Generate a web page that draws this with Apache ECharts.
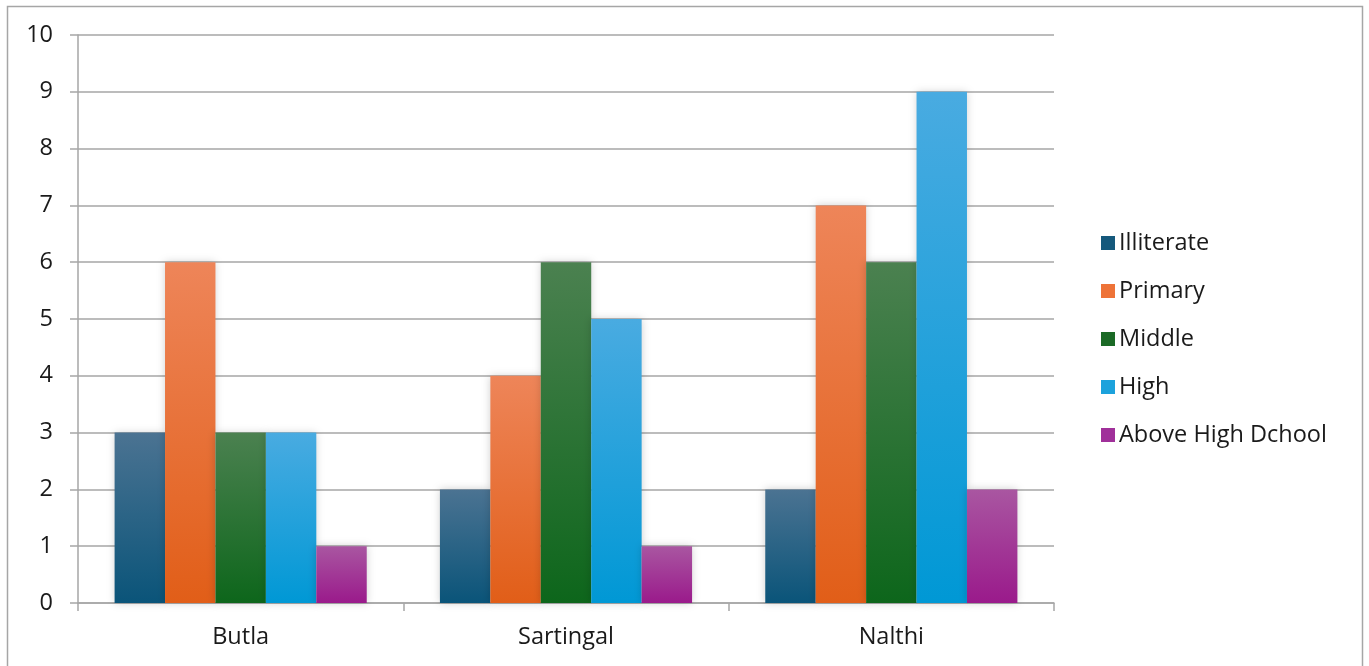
<!DOCTYPE html>
<html>
<head>
<meta charset="utf-8">
<script src="https://cdn.jsdelivr.net/npm/echarts@6/dist/echarts.min.js"></script>
<style>
html,body{margin:0;padding:0;background:#fff;}
#main{width:1369px;height:666px;}
</style>
</head>
<body>
<div id="main"></div>
<script>
const categories = ['Butla', 'Sartingal', 'Nalthi'];
const seriesNames = ['Illiterate', 'Primary', 'Middle', 'High', 'Above High Dchool'];
const illiterate = [3, 2, 2];
const primary = [6, 4, 7];
const middle = [3, 6, 6];
const high = [3, 5, 9];
const aboveHigh = [1, 1, 2];
const yTicks = [0, 1, 2, 3, 4, 5, 6, 7, 8, 9, 10];

const seriesData = [illiterate, primary, middle, high, aboveHigh];
const gradients = [
  ['#4b7392', '#0a5479'],
  ['#ee8559', '#e15e18'],
  ['#4b8150', '#0d661b'],
  ['#49abe1', '#0098d5'],
  ['#a956a1', '#9a1a8b']
];
const legendColors = ['#15597c', '#ee7338', '#1b6a26', '#1ca2dc', '#a0309a'];

const chart = echarts.init(document.getElementById('main'));
const font = 'Open Sans';
const fs = 23.5;
chart.setOption({
  animation: false,
  textStyle: { fontFamily: font },
  graphic: [{
    type: 'rect', silent: true, z: -10,
    shape: { x: 7.5, y: 6.5, width: 1355, height: 700 },
    style: { fill: 'none', stroke: '#a6a6a6', lineWidth: 1.5 }
  }],
  grid: { left: 78, right: 315, top: 35, bottom: 63 },
  legend: {
    orient: 'vertical',
    left: 1096, top: 226,
    itemWidth: 14, itemHeight: 14, itemGap: 24,
    icon: 'rect',
    textStyle: { fontSize: fs, lineHeight: 24, color: '#1a1a1a', fontFamily: font, padding: [0, 0, 0, -1] },
    data: seriesNames.map((n, i) => ({ name: n, itemStyle: { color: legendColors[i] } }))
  },
  xAxis: {
    type: 'category',
    data: categories,
    axisLine: { lineStyle: { color: '#a6a6a6', width: 1.5 } },
    axisTick: { show: true, length: 8, lineStyle: { color: '#a6a6a6', width: 1.5 } },
    axisLabel: { fontSize: fs, color: '#1a1a1a', margin: 22 }
  },
  yAxis: {
    type: 'value',
    min: 0, max: 10, interval: 1,
    axisLine: { show: true, lineStyle: { color: '#a6a6a6', width: 1.5 } },
    axisTick: { show: true, length: 8, lineStyle: { color: '#a6a6a6', width: 1.5 } },
    splitLine: { lineStyle: { color: '#a6a6a6', width: 1.5 } },
    axisLabel: { fontSize: fs, color: '#1a1a1a', margin: 25,
      formatter: v => yTicks.indexOf(v) >= 0 ? String(v) : '' }
  },
  series: seriesNames.map((name, i) => ({
    name, type: 'bar',
    data: seriesData[i],
    barGap: '0%',
    barCategoryGap: '22.5%',
    itemStyle: {
      color: new echarts.graphic.LinearGradient(0, 0, 0, 1, [
        { offset: 0, color: gradients[i][0] },
        { offset: 1, color: gradients[i][1] }
      ]),
      shadowColor: 'rgba(0,0,0,0.18)', shadowBlur: 8, shadowOffsetX: 0, shadowOffsetY: 0
    }
  }))
});
</script>
</body>
</html>
